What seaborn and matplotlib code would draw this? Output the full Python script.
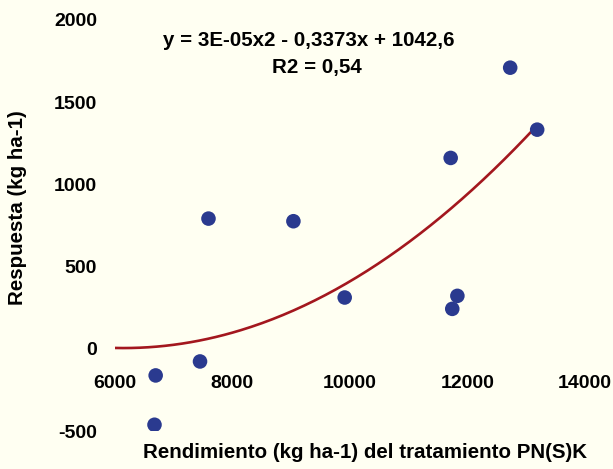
import numpy as np
import pandas as pd
import matplotlib
matplotlib.use("Agg")
import matplotlib.pyplot as plt
import seaborn as sns

# Data
rendimiento = [6700, 6680, 7454, 7598, 9042, 9914, 11716, 11743, 11830, 12728, 13187]
respuesta = [-162, -462, -77, 792, 776, 312, 1161, 243, 322, 1710, 1333]
x_ticks = [6000, 8000, 10000, 12000, 14000]
y_ticks = [-500, 0, 500, 1000, 1500, 2000]
# Excel polynomial trendline (displayed coefficients; quadratic term unrounded estimate)
trend_coef = [2.74e-05, -0.3373, 1042.6]
trend_range = [6000, 13130]
equation = "y = 3E-05x2 - 0,3373x + 1042,6"
r2_text = "R2 = 0,54"
xlabel = "Rendimiento (kg ha-1) del tratamiento PN(S)K"
ylabel = "Respuesta (kg ha-1)"

bg = "#FFFFF2"
sns.set_theme(style="white")
plt.rcParams['font.family'] = ['Liberation Sans', 'DejaVu Sans']
plt.rcParams['font.weight'] = 'bold'
plt.rcParams['text.color'] = 'black'
plt.rcParams['xtick.color'] = 'black'
plt.rcParams['ytick.color'] = 'black'

df = pd.DataFrame({"x": rendimiento, "y": respuesta})

fig = plt.figure(figsize=(6.13, 4.69), dpi=100, facecolor=bg)
ax = fig.add_axes([114.5/613, 1-431/469, (585-114.5)/613, (431-20)/469])
ax.set_facecolor(bg)
for s in ax.spines.values():
    s.set_visible(False)
ax.spines['bottom'].set_position(('data', 0))

xs = np.linspace(trend_range[0], trend_range[1], 200)
trend = pd.DataFrame({"x": xs, "y": np.polyval(trend_coef, xs)})
sns.lineplot(data=trend, x="x", y="y", ax=ax, color="#A3171E", linewidth=1.9, zorder=2)

sns.scatterplot(data=df, x="x", y="y", ax=ax, s=110, color="#2A3A8F",
                edgecolor="none", zorder=3)

ax.set_xlim(6000, 14000)
ax.set_ylim(-500, 2000)
ax.set_xticks(x_ticks)
ax.set_yticks(y_ticks)
ax.set_xticklabels([str(t) for t in x_ticks])
ax.set_yticklabels([str(t) for t in y_ticks])
ax.tick_params(axis='x', length=0, pad=19, labelsize=14, labelcolor='black')
ax.tick_params(axis='y', length=0, pad=12.5, labelsize=14, labelcolor='black')
for lab in ax.get_xticklabels() + ax.get_yticklabels():
    lab.set_fontweight('bold')
ax.set_xlabel("")
ax.set_ylabel("")
ax.grid(False)

fig.text(365/613, 1-452/469, xlabel, ha='center', va='center', fontsize=14.8, fontweight='bold')
fig.text(18/613, 1-208/469, ylabel, ha='center', va='center', rotation=90, fontsize=14.8, fontweight='bold')
fig.text(309/613, 1-40/469, equation, ha='center', va='center', fontsize=14.8, fontweight='bold')
fig.text(317/613, 1-67/469, r2_text, ha='center', va='center', fontsize=14.8, fontweight='bold')

fig.savefig("out.png", dpi=100, facecolor=bg)
